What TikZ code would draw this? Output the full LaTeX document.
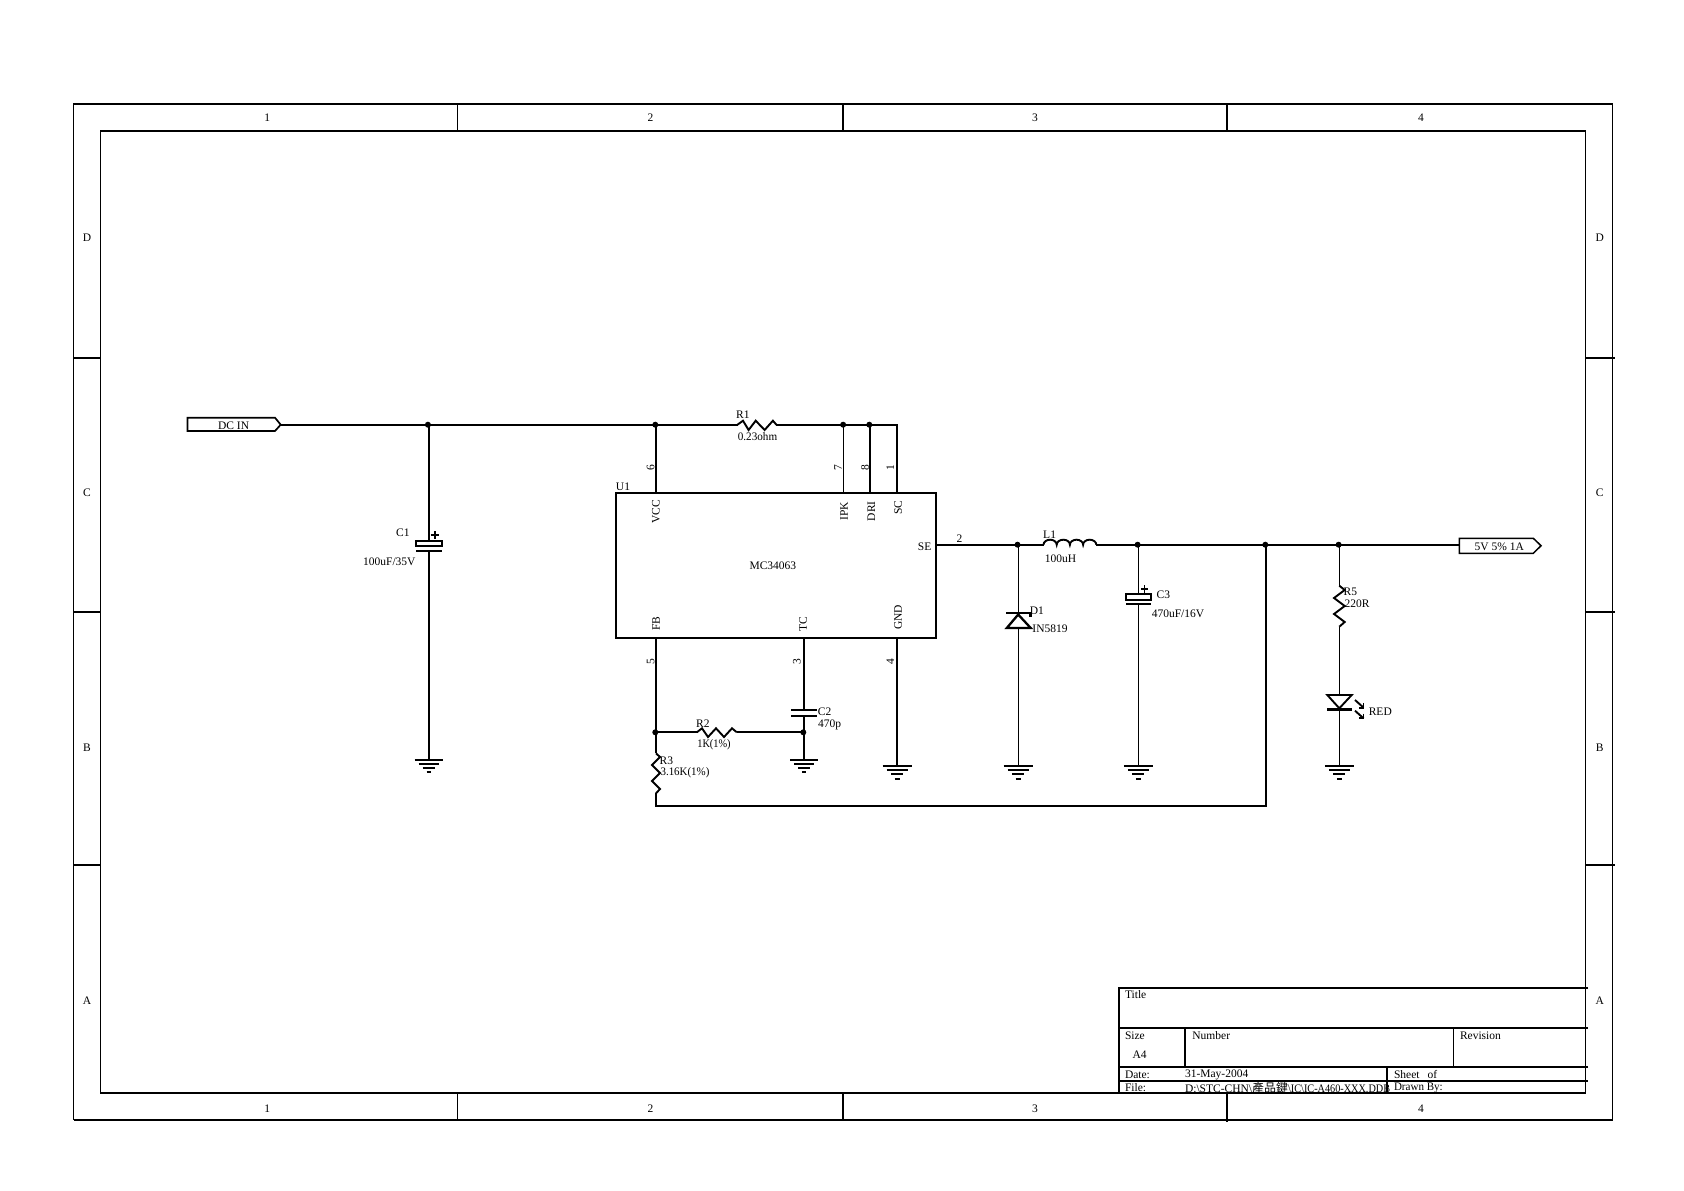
\documentclass[tikz,border=0pt]{standalone}
\usepackage{fontspec}
\setmainfont{Liberation Serif}
\newfontfamily\cjkfont{Noto Sans CJK TC}
\usetikzlibrary{calc}
\tikzset{
  x=1pt,y=-1pt,
  frame/.style={draw=black,line width=1.5pt},
  heavy/.style={draw=black,line width=2.1pt},
  wire/.style={draw=black,line width=2pt,line join=miter},
  thinwire/.style={draw=black,line width=1.3pt},
  comp/.style={draw=black,line width=1.9pt,line join=miter},
  lab/.style={inner sep=0pt,outer sep=0pt,yshift=-0.8pt,font=\fontsize{11.5}{12}\selectfont},
  llab/.style={lab,anchor=west},
  vlab/.style={inner sep=0pt,outer sep=0pt,rotate=90,font=\fontsize{11.5}{12}\selectfont},
  dot/.style={circle,fill=black,draw=none,minimum size=6pt,inner sep=0pt,xshift=-0.7pt},
  gnd/.pic={
    \draw[comp] (-14.5,0)--(14.5,0);
    \draw[comp] (-10.5,4.4)--(10.5,4.4);
    \draw[comp] (-6,8.7)--(6,8.7);
    \draw[comp] (-2.5,13)--(2.5,13);
  },
  gndb/.pic={
    \draw[comp] (-14,0)--(14,0);
    \draw[comp] (-10,4.2)--(10,4.2);
    \draw[comp] (-6,8.2)--(6,8.2);
    \draw[comp] (-2,12.3)--(2,12.3);
  },
  ledarrow/.pic={
    \draw[comp] (0,0)--(8.5,7.6);
    \draw[comp] (8.5,2.8)--(8.5,7.6)--(3.6,7.6);
  },
}
\begin{document}
\begin{tikzpicture}
\useasboundingbox (0,0) rectangle (1684,1191);
\fill[white] (0,0) rectangle (1684,1191);

% sheet frame
\node[frame,draw,minimum width=1539.2pt,minimum height=1015.7pt,inner sep=0pt,outer sep=0pt,anchor=north west] (outer) at (73.5,104) {};
\node[frame,draw,minimum width=1485.4pt,minimum height=962pt,inner sep=0pt,outer sep=0pt,anchor=north west] (inner) at (100.3,130.7) {};
\draw[heavy] (73.5,104)--(1612.7,104) (100.3,130.7)--(1585.7,130.7) (100.3,1092.7)--(1585.7,1092.7) (73.5,1119.7)--(1612.7,1119.7);
\draw[thinwire] (457.3,104)--(457.3,130.7) (457.3,1092.7)--(457.3,1119.7);
\draw[heavy] (842.7,104)--(842.7,130.7) (842.7,1092.7)--(842.7,1119.7);
\draw[heavy] (1227,104)--(1227,130.7) (1227,1092.7)--(1227,1122);
\foreach \yy in {357.7,612,865.3}{
  \draw[heavy] (73.5,\yy)--(100.3,\yy) (1585.7,\yy)--(1615,\yy);
}
\foreach \xx/\t/\n in {267.3/1/a,650.6/2/b,1034.9/3/c,1421/4/d}{
  \node[lab] (top\n) at (\xx,116.7) {\t};
  \node[lab] (bot\n) at (\xx,1108) {\t};
}
\foreach \yy/\t/\n in {237/D/d,491.7/C/c,747/B/b,1000.3/A/a}{
  \node[lab] (left\n) at (87,\yy) {\t};
  \node[lab] (right\n) at (1599.8,\yy) {\t};
}

% title block
\draw[heavy] (1588,987.7)--(1119,987.7)--(1119,1094);
\draw[heavy] (1119,1027.7)--(1588,1027.7);
\draw[heavy] (1119,1067)--(1588,1067);
\draw[heavy] (1119,1080.7)--(1588,1080.7);
\draw[heavy] (1185,1027.7)--(1185,1067);
\draw[thinwire] (1453.8,1027.7)--(1453.8,1067);
\draw[heavy] (1386.6,1067)--(1386.6,1094);
\node[llab] (tTitle) at (1125,994) {Title};
\node[llab] (tSize) at (1125,1035) {Size};
\node[lab] (tA4) at (1139.6,1054) {A4};
\node[llab] (tNumber) at (1192.4,1035) {Number};
\node[llab] (tRev) at (1460,1035) {Revision};
\node[llab] (tDate) at (1125,1074.3) {Date:};
\node[llab] (tDateV) at (1185,1074.3) {31-May-2004};
\node[llab] (tSheet) at (1394,1074) {Sheet\hspace{8pt}of};
\node[llab] (tFile) at (1125,1087) {File:};
\node[llab] (tFileV) at (1185,1087) {D:\textbackslash STC-CHN\textbackslash{\cjkfont\fontsize{12}{12}\selectfont 產品鍵}\scalebox{0.89}[1]{\textbackslash IC\textbackslash IC-A460-XXX.DDB}};
\node[llab] (tDrawn) at (1394,1087) {\scalebox{0.96}[1]{Drawn By:}};

% named points
\coordinate (j1) at (428.6,424.7);
\coordinate (j2) at (656,424.7);
\coordinate (r1a) at (737.5,424.7);
\coordinate (r1b) at (776.4,424.7);
\coordinate (j3) at (843.8,424.7);
\coordinate (j4) at (870,424.7);
\coordinate (topc) at (897,424.7);
\coordinate (j5) at (1018.2,544.7);
\coordinate (l1a) at (1043.5,544.7);
\coordinate (l1b) at (1096.3,544.7);
\coordinate (j6) at (1138.3,544.7);
\coordinate (j7) at (1266,544.7);
\coordinate (j8) at (1339.3,544.7);
\coordinate (j9) at (656,732.3);
\coordinate (j10) at (804,732.3);
\coordinate (r2a) at (696.8,732.3);
\coordinate (r2b) at (736.8,732.3);
\coordinate (r3a) at (656,753.3);
\coordinate (r3b) at (656,793.3);
\coordinate (fbc) at (656,805.7);
\coordinate (fbr) at (1266,805.7);
\coordinate (c1t) at (428.6,541.3);
\coordinate (c1b) at (428.6,551);
\coordinate (g1) at (428.6,759.7);
\coordinate (c2t) at (804,709.7);
\coordinate (c2b) at (804,716);
\coordinate (g2) at (804,759.7);
\coordinate (g3) at (897,765.7);
\coordinate (g4) at (1018.2,765.7);
\coordinate (g5) at (1138.3,765.7);
\coordinate (g6) at (1339.3,765.7);
\coordinate (d1t) at (1018.2,613);
\coordinate (d1b) at (1018.2,628);
\coordinate (c3t) at (1138.3,594.3);
\coordinate (c3b) at (1138.3,603.7);
\coordinate (r5a) at (1339.3,585.7);
\coordinate (r5b) at (1339.3,626.7);
\coordinate (l5a) at (1339.3,695);
\coordinate (l5b) at (1339.3,709.3);

% U1
\node[draw=black,line width=1.9pt,minimum width=320pt,minimum height=145pt,inner sep=0pt,outer sep=0pt,anchor=north west] (u1) at (616.4,492.7) {};
\coordinate (pVCC) at (656,492.7);
\coordinate (pIPK) at (843.8,492.7);
\coordinate (pDRI) at (870,492.7);
\coordinate (pSC) at (897,492.7);
\coordinate (pSE) at (936.4,544.7);
\coordinate (pFB) at (656,637.7);
\coordinate (pTC) at (804,637.7);
\coordinate (pGND) at (897,637.7);
\node[lab] (nU1) at (623,486) {U1};
\node[lab] (nMC) at (772.9,565) {MC34063};
\node[vlab] (nVCC) at (656,512) {VCC};
\node[vlab] (nIPK) at (844,511) {IPK};
\node[vlab] (nDRI) at (871.4,511.3) {DRI};
\node[vlab] (nSC) at (898,507.7) {SC};
\node[vlab] (nFB) at (656,623.7) {FB};
\node[vlab] (nTC) at (803,623.7) {TC};
\node[vlab] (nGND) at (898,617.3) {GND};
\node[lab] (nSE) at (924.6,546.3) {SE};
\node[vlab] (p6) at (650.7,468) {6};
\node[vlab] (p7) at (838,468) {7};
\node[vlab] (p8) at (865,468) {8};
\node[vlab] (p1) at (890.4,468) {1};
\node[vlab] (p5) at (650.7,662) {5};
\node[vlab] (p3) at (796.8,662) {3};
\node[vlab] (p4) at (890.4,662) {4};
\node[lab] (p2) at (959.6,538) {2};

% ports
\draw[line width=1.7pt,fill=white] (187.5,417.7)--(275,417.7)--(280.7,424.7)--(275,431)--(187.5,431)--cycle;
\coordinate (portin) at (280.7,424.7);
\node[lab] (tDC) at (233.6,424.7) {DC IN};
\draw[line width=1.5pt,fill=white] (1459.3,538.3)--(1533.3,538.3)--(1541,545.7)--(1533.3,553.3)--(1459.3,553.3)--cycle;
\coordinate (portout) at (1459.3,544.7);
\node[lab] (tOut) at (1499.3,545.7) {5V 5\% 1A};

% wires
\draw[wire] (portin)--(j1)--(j2)--(r1a);
\draw[wire] (r1b)--(j3)--(j4)--(topc)--(pSC);
\draw[wire] (j1)--(c1t);
\draw[wire] (c1b)--(g1);
\draw[wire] (j2)--(pVCC);
\draw[thinwire] (j3)--(pIPK);
\draw[wire] (j4)--(pDRI);
\draw[wire] (pSE)--(j5)--(l1a);
\draw[wire] (l1b)--(j6)--(j7)--(j8)--(portout);
\draw[thinwire] (j5)--(d1t);
\draw[thinwire] (d1b)--(g4);
\draw[thinwire] (j6)--(c3t);
\draw[thinwire] (c3b)--(g5);
\draw[thinwire] (j8)--(r5a);
\draw[thinwire] (r5b)--(l5a);
\draw[thinwire] (l5b)--(g6);
\draw[wire] (pFB)--(j9)--(r3a);
\draw[wire] (r3b)--(fbc)--(fbr)--(j7);
\draw[wire] (j9)--(r2a);
\draw[wire] (r2b)--(j10);
\draw[wire] (pTC)--(c2t);
\draw[wire] (c2b)--(j10)--(g2);
\draw[wire] (pGND)--(g3);

% junctions
\foreach \j/\n in {j1/1,j2/2,j3/3,j4/4,j5/5,j6/6,j7/7,j8/8,j9/9,j10/10}{
  \node[dot] (dot\n) at (\j) {};
}

% R1
\draw[comp] (r1a)--(743,420.7)--(748.6,430)--(755.7,420.7)--(764.6,430)--(772.9,420.7)--(r1b);
\node[lab] (nR1) at (742.9,414) {R1};
\node[lab] (vR1) at (757.5,436) {\scalebox{0.97}[1]{0.23ohm}};
% R2
\draw[comp] (r2a)--(702,728.3)--(708,737)--(716,728.3)--(724,737)--(732,728.3)--(r2b);
\node[lab] (nR2) at (702.9,723.3) {R2};
\node[lab] (vR2) at (714,744.3) {\scalebox{0.9}[1]{1K(1\%)}};
% R3
\draw[comp] (r3a)--(660,757)--(652,765)--(660,773)--(652,781)--(660,789)--(r3b);
\node[lab] (nR3) at (666.4,760) {R3};
\node[lab] (vR3) at (685,772.3) {\scalebox{0.95}[1]{3.16K(1\%)}};
% R5
\draw[comp] (r5a)--(1344.7,590)--(1334,598)--(1344.7,606)--(1334,614)--(1344.7,622)--(r5b);
\node[lab] (nR5) at (1350.3,591) {R5};
\node[lab] (vR5) at (1357,603) {220R};
% C1
\draw[comp] (416.4,541.3) rectangle (442,545.7);
\draw[comp] (416.4,551)--(442,551);
\draw[line width=1.9pt] (430.5,535)--(438.7,535) (434.6,531)--(434.6,539);
\node[lab] (nC1) at (402.9,532) {C1};
\node[lab] (vC1) at (389.3,561.3) {100uF/35V};
% C2
\draw[comp] (791.4,709.7)--(817,709.7);
\draw[comp] (791.4,716)--(817,716);
\node[lab] (nC2) at (824.6,711) {C2};
\node[lab] (vC2) at (829.6,724.3) {470p};
% C3
\draw[comp] (1126,594.3) rectangle (1151,599.7);
\draw[comp] (1126,603.7)--(1151,603.7);
\draw[line width=1.5pt] (1141,589)--(1148.4,589) (1144.7,585.3)--(1144.7,592.7);
\node[lab] (nC3) at (1163.3,594) {C3};
\node[lab] (vC3) at (1178,613.3) {470uF/16V};
% L1
\draw[comp] (l1a) arc[start angle=180,end angle=0,x radius=6.6pt,y radius=5pt]
  arc[start angle=180,end angle=0,x radius=6.6pt,y radius=5pt]
  arc[start angle=180,end angle=0,x radius=6.6pt,y radius=5pt]
  arc[start angle=180,end angle=0,x radius=6.6pt,y radius=5pt];
\node[lab] (nL1) at (1049.6,534.3) {L1};
\node[lab] (vL1) at (1060.4,558) {100uH};
% D1
\draw[line width=2.3pt,line join=miter] (1006.8,628)--(1030.7,628)--(1018.2,614.5)--cycle;
\draw[line width=2.6pt] (1006.4,613)--(1030.7,613)--(1030.7,617);
\node[lab] (nD1) at (1036.8,610) {D1};
\node[lab] (vD1) at (1050,628) {IN5819};
% LED
\draw[comp] (1327.3,695)--(1351.7,695)--(1339.3,708.3)--cycle;
\draw[line width=2.6pt] (1327,709.3)--(1352,709.3);
\pic at (1355,700) {ledarrow};
\pic at (1355,710.7) {ledarrow};
\node[lab] (nRED) at (1380.3,711) {RED};

% grounds
\pic at (g1) {gndb};
\pic at (g2) {gndb};
\pic at (g3) {gnd};
\pic at (g4) {gnd};
\pic at (g5) {gnd};
\pic at (g6) {gnd};
\end{tikzpicture}
\end{document}
